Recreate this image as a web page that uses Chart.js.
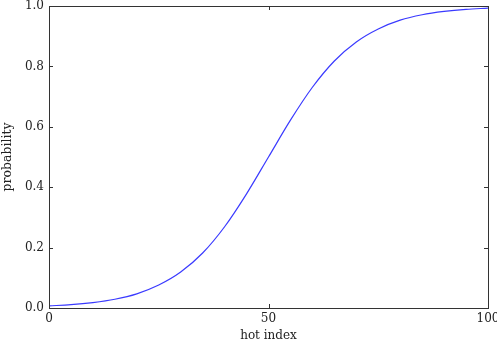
<!DOCTYPE html>
<html><head><meta charset="utf-8">
<script src="https://cdn.jsdelivr.net/npm/chart.js@4/dist/chart.umd.min.js"></script>
<style>
html,body{margin:0;padding:0;background:#fff;overflow:hidden;width:497px;height:343px}
#wrap{position:relative;width:520px;height:343px}
</style></head><body>
<div id="wrap"><canvas id="c" width="520" height="343"></canvas></div>
<script>
const hotIndex = [0,5,10,15,20,25,30,35,40,45,50,55,60,65,70,75,80,85,90,95,100];
const probability = [0.007,0.011,0.018,0.029,0.047,0.076,0.119,0.182,0.269,0.378,0.5,0.622,0.731,0.818,0.881,0.924,0.953,0.971,0.982,0.989,0.993];
const xTicks = [0,50,100];
const yTicks = [0,0.2,0.4,0.6,0.8,1.0];
const xTitle = 'hot index';
const yTitle = 'probability';

const frame = {
  id:'frame',
  afterDraw(chart){
    const {ctx, chartArea:a, scales:{x,y}} = chart;
    ctx.save();
    ctx.strokeStyle='#333';
    ctx.lineWidth=1;
    ctx.strokeRect(Math.round(a.left)+0.5, Math.round(a.top)+0.5, Math.round(a.right-a.left), Math.round(a.bottom-a.top));
    ctx.beginPath();
    xTicks.forEach(v=>{const p=Math.round(x.getPixelForValue(v))+0.5;
      ctx.moveTo(p,a.bottom); ctx.lineTo(p,a.bottom-4);
      ctx.moveTo(p,a.top); ctx.lineTo(p,a.top+4);});
    yTicks.forEach(v=>{const p=Math.round(y.getPixelForValue(v))+0.5;
      ctx.moveTo(a.left,p); ctx.lineTo(a.left+4,p);
      ctx.moveTo(a.right,p); ctx.lineTo(a.right-4,p);});
    ctx.stroke();
    ctx.restore();
  }
};

new Chart(document.getElementById('c'), {
  type:'line',
  data:{datasets:[{data:hotIndex.map((v,i)=>({x:v,y:probability[i]})),
    borderColor:'#3a3aff', borderWidth:1.2, pointRadius:0, tension:0.4, cubicInterpolationMode:'monotone', fill:false}]},
  options:{
    responsive:false, animation:false, devicePixelRatio:1,
    layout:{padding:{left:0,top:6,right:32,bottom:0}},
    plugins:{legend:{display:false},tooltip:{enabled:false}},
    scales:{
      x:{type:'linear',min:0,max:100,
        afterBuildTicks(s){s.ticks=xTicks.map(v=>({value:v}));},
        afterFit(s){s.height=35;s.paddingLeft=0;s.paddingRight=0;},
        grid:{display:false,drawTicks:false}, border:{display:false},
        ticks:{padding:4,color:'#222',font:{family:'DejaVu Serif',size:12},maxRotation:0,autoSkip:false},
        title:{display:true,text:xTitle,color:'#222',font:{family:'DejaVu Serif',size:12},padding:{top:1,bottom:0}}},
      y:{type:'linear',min:0,max:1,
        afterBuildTicks(s){s.ticks=yTicks.map(v=>({value:v}));},
        afterFit(s){s.width=49;s.paddingTop=0;s.paddingBottom=0;},
        grid:{display:false,drawTicks:false}, border:{display:false},
        ticks:{padding:5,color:'#222',font:{family:'DejaVu Serif',size:12},callback:v=>v.toFixed(1)},
        title:{display:true,text:yTitle,color:'#222',font:{family:'DejaVu Serif',size:12.5},padding:{top:0,bottom:0}}}
    }
  },
  plugins:[frame]
});
</script></body></html>
